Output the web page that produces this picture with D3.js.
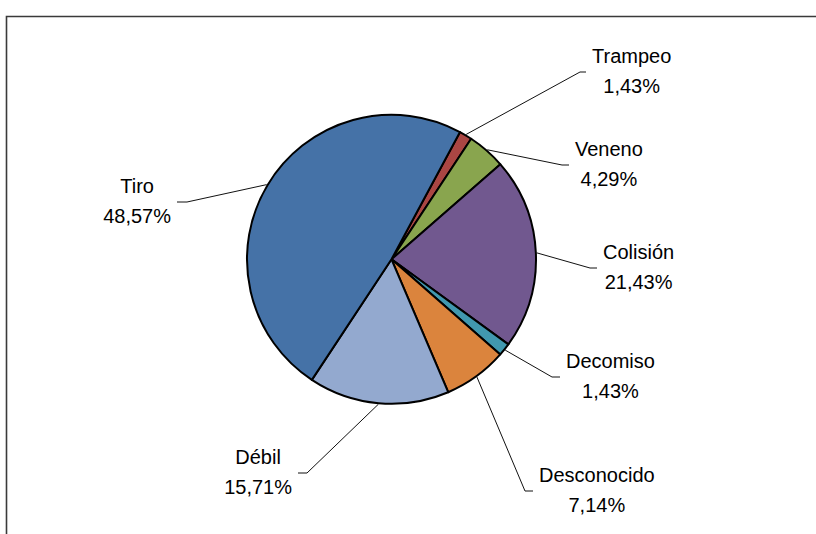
<!DOCTYPE html>
<html>
<head>
<meta charset="utf-8">
<script src="https://cdnjs.cloudflare.com/ajax/libs/d3/7.8.5/d3.min.js"></script>
<style>
  body { margin: 0; background: #fff; }
  text { font-family: "Liberation Sans", Arial, sans-serif; font-size: 20px; fill: #000; }
</style>
</head>
<body>
<div id="chart"></div>
<script>
(function(){

// data (clockwise from the top-right)
var categories = ["Trampeo", "Veneno", "Colisión", "Decomiso", "Desconocido", "Débil", "Tiro"];
var percents   = [1.43, 4.29, 21.43, 1.43, 7.14, 15.71, 48.57];
var colors     = ["#AA4643", "#89A54E", "#71588F", "#4198AF", "#DB843D", "#93A9CF", "#4572A7"];

// where each leader line bends (layout only), and which side the label sits on
var elbows = [[580, 72], [562, 165], [590, 268], [552, 377], [525, 491], [307, 473], [187, 202]];
var sides  = [1, 1, 1, 1, 1, -1, -1];
var tickLen = [6, 7, 7, 8, 8, 9, 10];

var width = 816;
var height = 534;
var cx = 391.5, cy = 259.3, radius = 144.5;
var startAngle = 28.3 * Math.PI / 180;

var svg = d3.select("#chart")
  .append("svg")
  .attr("width", width)
  .attr("height", height);

// chart frame (only top and left edges show)
svg.append("path")
  .attr("d", "M6.5,534 L6.5,16.5 L816,16.5")
  .attr("fill", "none")
  .attr("stroke", "#3a3a3a")
  .attr("stroke-width", 1.6);

var data = categories.map(function(c, i){
  return {name: c, value: percents[i], color: colors[i], elbow: elbows[i], side: sides[i], tick: tickLen[i]};
});

var pie = d3.pie()
  .sort(null)
  .value(function(d){ return d.value; })
  .startAngle(startAngle)
  .endAngle(startAngle + 2 * Math.PI);

var arc = d3.arc().innerRadius(0).outerRadius(radius);

var g = svg.append("g")
  .attr("transform", "translate(" + cx + "," + cy + ")");

var arcs = pie(data);

g.selectAll(".slice")
  .data(arcs)
  .enter().append("path")
  .attr("class", "slice")
  .attr("d", arc)
  .attr("fill", function(d){ return d.data.color; })
  .attr("stroke", "#000")
  .attr("stroke-width", 2)
  .attr("stroke-linejoin", "round");

// leader lines: from the rim at the mid angle to the elbow, then a short flat tick
var fmt = function(v){ return v.toFixed(2).replace(".", ",") + "%"; };

arcs.forEach(function(d){
  var mid = (d.startAngle + d.endAngle) / 2;
  var sx = cx + Math.sin(mid) * (radius + 1);
  var sy = cy - Math.cos(mid) * (radius + 1);
  var ex = d.data.elbow[0], ey = d.data.elbow[1];
  var tx = ex + d.data.side * d.data.tick;

  svg.append("path")
    .attr("d", "M" + sx + "," + sy + "L" + ex + "," + ey + "L" + tx + "," + ey)
    .attr("fill", "none")
    .attr("stroke", "#111")
    .attr("stroke-width", 1);

  var lab = svg.append("g");
  var t1 = lab.append("text").attr("text-anchor", "middle").attr("y", ey - 9.5).text(d.data.name);
  var t2 = lab.append("text").attr("text-anchor", "middle").attr("y", ey + 20.5).text(fmt(d.data.value));
  var w = Math.max(t1.node().getComputedTextLength(), t2.node().getComputedTextLength());
  var lx = tx + d.data.side * (6 + w / 2);
  t1.attr("x", lx);
  t2.attr("x", lx);
});

})();
</script>
</body>
</html>
